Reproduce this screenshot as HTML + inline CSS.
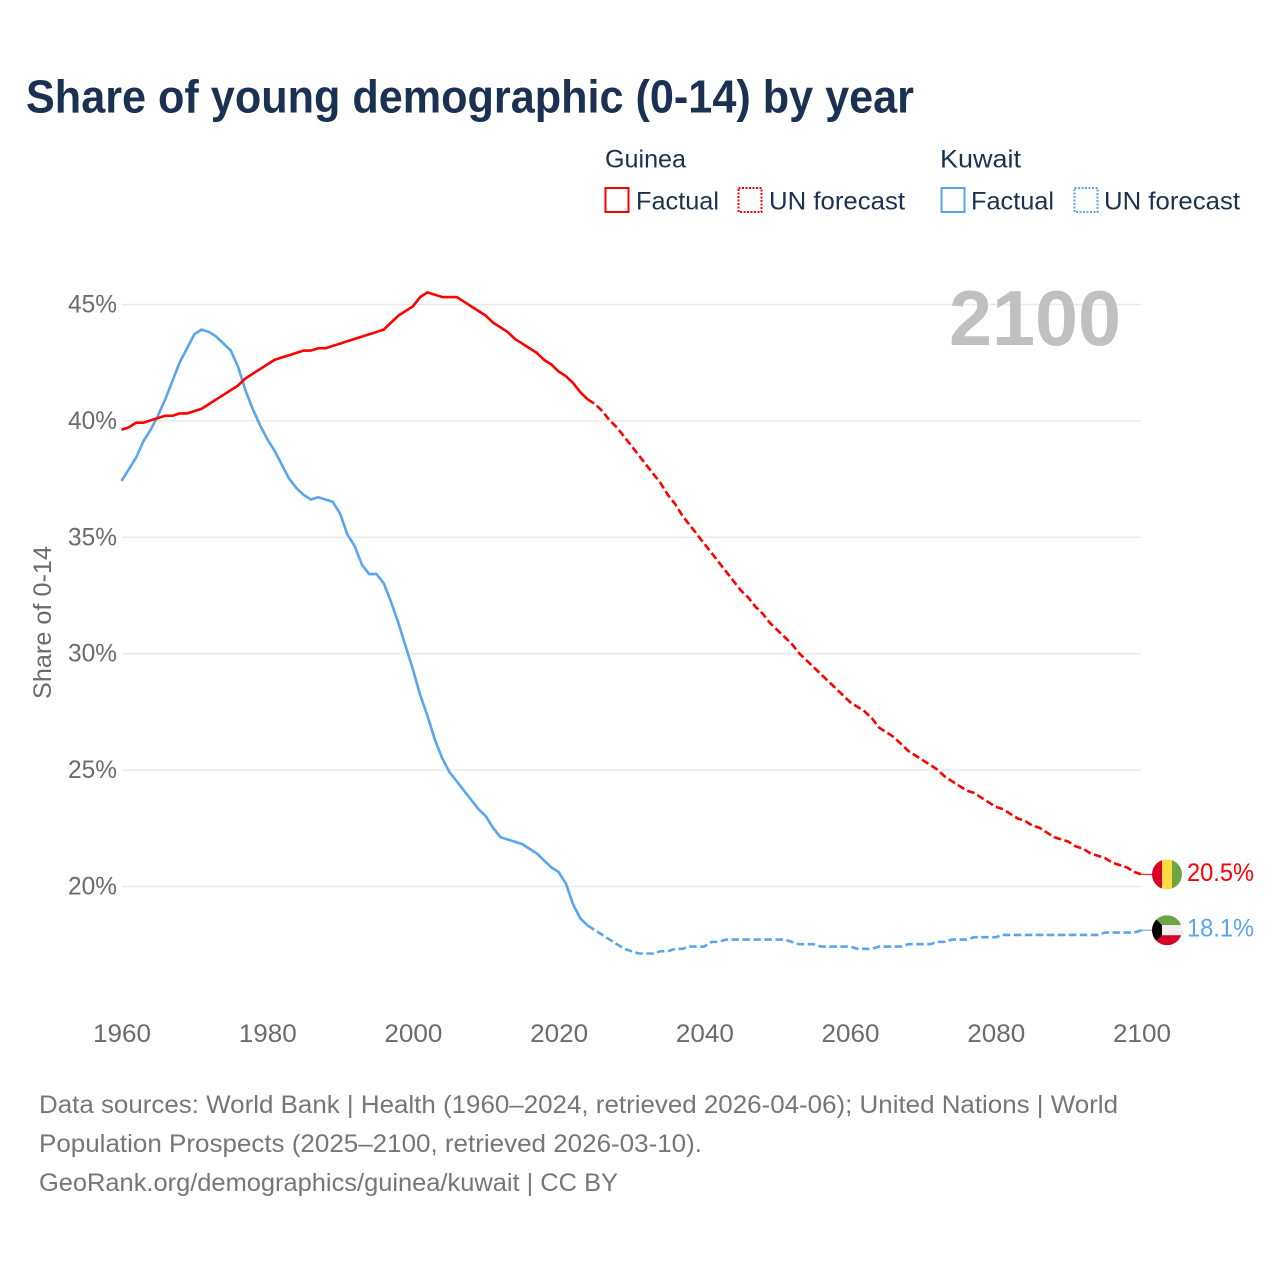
<!DOCTYPE html>
<html lang="en">
<head>
<meta charset="utf-8">
<title>Share of young demographic (0-14) by year</title>
<style>
  html, body { margin: 0; padding: 0; background: #ffffff; }
  svg { display: block; }
  text { font-family: "Liberation Sans", sans-serif; }
</style>
</head>
<body>
<svg id="chart" xmlns="http://www.w3.org/2000/svg" width="1280" height="1280" viewBox="0 0 1280 1280">
  <rect x="0" y="0" width="1280" height="1280" fill="#ffffff"/>

  <text x="26" y="112.5" font-size="46" font-weight="700" fill="#1a3152" textLength="888" lengthAdjust="spacingAndGlyphs">Share of young demographic (0-14) by year</text>

  <g font-size="25" fill="#1a3152">
    <text x="605" y="167.5" textLength="81" lengthAdjust="spacingAndGlyphs">Guinea</text>
    <text x="940" y="167.5" textLength="81" lengthAdjust="spacingAndGlyphs">Kuwait</text>

    <g>
      <rect x="605.5" y="188" width="23" height="24" fill="none" stroke="#ff0000" stroke-width="2"/>
      <text x="636" y="209.5" textLength="83" lengthAdjust="spacingAndGlyphs">Factual</text>
    </g>
    <g>
      <rect x="738.5" y="188" width="23" height="24" fill="none" stroke="#ff0000" stroke-width="2" stroke-dasharray="2 1.5"/>
      <text x="769" y="209.5" textLength="136" lengthAdjust="spacingAndGlyphs">UN forecast</text>
    </g>
    <g>
      <rect x="941.5" y="188" width="23" height="24" fill="none" stroke="#5aa5ec" stroke-width="2"/>
      <text x="971" y="209.5" textLength="83" lengthAdjust="spacingAndGlyphs">Factual</text>
    </g>
    <g>
      <rect x="1074.5" y="188" width="23" height="24" fill="none" stroke="#5aa5ec" stroke-width="2" stroke-dasharray="2 1.5"/>
      <text x="1104" y="209.5" textLength="136" lengthAdjust="spacingAndGlyphs">UN forecast</text>
    </g>
  </g>

  <g id="grid"></g>
  <g id="yticks"></g>
  <g id="xticks"></g>

  <text transform="translate(51 622.5) rotate(-90)" text-anchor="middle" font-size="25" fill="#6b6b6b" textLength="153" lengthAdjust="spacingAndGlyphs">Share of 0-14</text>

  <text x="949" y="345" font-size="78" font-weight="700" fill="#c0c0c0" textLength="172" lengthAdjust="spacingAndGlyphs">2100</text>

  <g id="series"></g>

  <defs>
    <clipPath id="flag-clip-guinea"><circle id="clip-circle-guinea" cx="1167" cy="874" r="15"/></clipPath>
    <clipPath id="flag-clip-kuwait"><circle id="clip-circle-kuwait" cx="1167" cy="930" r="15"/></clipPath>
  </defs>
  <g id="end-markers"></g>

  <g font-size="25" fill="#767676">
    <text x="39" y="1113" textLength="1079" lengthAdjust="spacingAndGlyphs">Data sources: World Bank | Health (1960–2024, retrieved 2026-04-06); United Nations | World</text>
    <text x="39" y="1152" textLength="663" lengthAdjust="spacingAndGlyphs">Population Prospects (2025–2100, retrieved 2026-03-10).</text>
    <text x="39" y="1191" textLength="579" lengthAdjust="spacingAndGlyphs">GeoRank.org/demographics/guinea/kuwait | CC BY</text>
  </g>
</svg>

<script>
const xTickYears = [1960, 1980, 2000, 2020, 2040, 2060, 2080, 2100];
const yTickValues = [20, 25, 30, 35, 40, 45];
const factualStartYear = 1960;
const forecastStartYear = 2024;

const guineaFactual = [
  39.6,39.7,39.9,39.9,40.0,40.1,40.2,40.2,40.3,40.3,
  40.4,40.5,40.7,40.9,41.1,41.3,41.5,41.8,42.0,42.2,
  42.4,42.6,42.7,42.8,42.9,43.0,43.0,43.1,43.1,43.2,
  43.3,43.4,43.5,43.6,43.7,43.8,43.9,44.2,44.5,44.7,
  44.9,45.3,45.5,45.4,45.3,45.3,45.3,45.1,44.9,44.7,
  44.5,44.2,44.0,43.8,43.5,43.3,43.1,42.9,42.6,42.4,
  42.1,41.9,41.6,41.2,40.9
];
const guineaForecast = [
  40.9,40.7,40.4,40.0,39.7,39.3,
  38.9,38.5,38.1,37.7,37.3,36.8,36.4,35.9,35.5,35.1,
  34.7,34.3,33.9,33.5,33.1,32.7,32.4,32.0,31.7,31.3,
  31.0,30.7,30.4,30.0,29.7,29.4,29.1,28.8,28.5,28.2,
  27.9,27.7,27.5,27.2,26.8,26.6,26.4,26.1,25.8,25.6,
  25.4,25.2,25.0,24.7,24.5,24.3,24.1,24.0,23.8,23.6,
  23.4,23.3,23.1,22.9,22.8,22.6,22.5,22.3,22.1,22.0,
  21.9,21.7,21.6,21.4,21.3,21.2,21.0,20.9,20.8,20.6,
  20.5
];
const kuwaitFactual = [
  37.4,37.9,38.4,39.1,39.6,40.2,40.9,41.7,42.5,43.1,
  43.7,43.9,43.8,43.6,43.3,43.0,42.3,41.3,40.5,39.8,
  39.2,38.7,38.1,37.5,37.1,36.8,36.6,36.7,36.6,36.5,
  36.0,35.1,34.6,33.8,33.4,33.4,33.0,32.2,31.3,30.3,
  29.3,28.2,27.3,26.3,25.5,24.9,24.5,24.1,23.7,23.3,
  23.0,22.5,22.1,22.0,21.9,21.8,21.6,21.4,21.1,20.8,
  20.6,20.1,19.2,18.6,18.3
];
const kuwaitForecast = [
  18.3,18.1,17.9,17.7,17.5,17.3,
  17.2,17.1,17.1,17.1,17.2,17.2,17.3,17.3,17.4,17.4,
  17.4,17.6,17.6,17.7,17.7,17.7,17.7,17.7,17.7,17.7,
  17.7,17.7,17.6,17.5,17.5,17.5,17.4,17.4,17.4,17.4,
  17.4,17.3,17.3,17.3,17.4,17.4,17.4,17.4,17.5,17.5,
  17.5,17.5,17.6,17.6,17.7,17.7,17.7,17.8,17.8,17.8,
  17.8,17.9,17.9,17.9,17.9,17.9,17.9,17.9,17.9,17.9,
  17.9,17.9,17.9,17.9,17.9,18.0,18.0,18.0,18.0,18.0,
  18.1
];

const NS = 'http://www.w3.org/2000/svg';
const RED = '#ff0000';
const BLUE = '#5aa5ec';

function xScale(year) { return 121.5 + (year - 1960) * (1020 / 140); }
function yScale(value) { return 886 - (value - 20) * (582 / 25); }

function make(tag, attrs, parent) {
  const el = document.createElementNS(NS, tag);
  for (const k in attrs) el.setAttribute(k, attrs[k]);
  parent.appendChild(el);
  return el;
}

const gridGroup = document.getElementById('grid');
const yTickGroup = document.getElementById('yticks');
const xTickGroup = document.getElementById('xticks');
const seriesGroup = document.getElementById('series');
const markerGroup = document.getElementById('end-markers');

yTickValues.forEach(function (v) {
  const line = make('line', { x1: 122, x2: 1141, y1: yScale(v) + 0.5, y2: yScale(v) + 0.5, stroke: '#e9e9e9', 'stroke-width': 1.5 }, gridGroup);
  
  
  const label = make('text', { x: 68, y: yScale(v) + 8.5, 'font-size': 25, fill: '#6b6b6b', textLength: 49, lengthAdjust: 'spacingAndGlyphs' }, yTickGroup);
  label.textContent = v + '%';
  
  
});

xTickYears.forEach(function (yr) {
  const label = make('text', { x: xScale(yr) - 28.5, y: 1042, 'font-size': 25, fill: '#6b6b6b', textLength: 58, lengthAdjust: 'spacingAndGlyphs' }, xTickGroup);
  label.textContent = String(yr);
  
  
});

function linePoints(values, startYear) {
  return values.map(function (v, i) {
    return xScale(startYear + i).toFixed(2) + ',' + yScale(v).toFixed(2);
  }).join(' ');
}

function drawLine(values, startYear, color, dash, name) {
  const attrs = { points: linePoints(values, startYear), fill: 'none', stroke: color, 'stroke-width': 2.6, 'stroke-linejoin': 'round' };
  if (dash) attrs['stroke-dasharray'] = dash;
  const poly = make('polyline', attrs, seriesGroup);
  
  
}

drawLine(kuwaitFactual, factualStartYear, BLUE, null, 'line-kuwait-factual');
drawLine(kuwaitForecast, forecastStartYear, BLUE, '7.5 3.5', 'line-kuwait-forecast');
drawLine(guineaFactual, factualStartYear, RED, null, 'line-guinea-factual');
drawLine(guineaForecast, forecastStartYear, RED, '7.5 3.5', 'line-guinea-forecast');

function drawEndLabel(value, color, name) {
  const y = yScale(value);
  const link = make('line', { x1: xScale(2100), x2: 1153, y1: y, y2: y, stroke: color, 'stroke-width': 1 }, markerGroup);
  
  
  const label = make('text', { x: 1187, y: y + 6.5, 'font-size': 25, fill: color, textLength: 67, lengthAdjust: 'spacingAndGlyphs' }, markerGroup);
  label.textContent = value.toFixed(1) + '%';
  
  
}

function flagRect(parent, x, y, w, h, fill) {
  return make('rect', { x: x, y: y, width: w, height: h, fill: fill }, parent);
}

const guineaLast = guineaForecast[guineaForecast.length - 1];
const kuwaitLast = kuwaitForecast[kuwaitForecast.length - 1];
drawEndLabel(guineaLast, RED, 'guinea-end');
drawEndLabel(kuwaitLast, BLUE, 'kuwait-end');

const guineaCy = yScale(guineaLast);
const kuwaitCy = yScale(kuwaitLast);
document.getElementById('clip-circle-guinea').setAttribute('cy', guineaCy);
document.getElementById('clip-circle-kuwait').setAttribute('cy', kuwaitCy);

const guineaFlag = make('g', { 'clip-path': 'url(#flag-clip-guinea)' }, markerGroup);


flagRect(guineaFlag, 1152, guineaCy - 15, 10, 30, '#d80027');
flagRect(guineaFlag, 1162, guineaCy - 15, 10, 30, '#ffda44');
flagRect(guineaFlag, 1172, guineaCy - 15, 10, 30, '#6da544');

const kuwaitFlag = make('g', { 'clip-path': 'url(#flag-clip-kuwait)' }, markerGroup);


flagRect(kuwaitFlag, 1152, kuwaitCy - 15, 30, 10, '#6da544');
flagRect(kuwaitFlag, 1152, kuwaitCy - 5, 30, 10, '#f0f0f0');
flagRect(kuwaitFlag, 1152, kuwaitCy + 5, 30, 10, '#d80027');
make('polygon', {
  points: [
    [1152, kuwaitCy - 15], [1162, kuwaitCy - 5], [1162, kuwaitCy + 5], [1152, kuwaitCy + 15]
  ].map(function (p) { return p.join(','); }).join(' '),
  fill: '#000000'
}, kuwaitFlag);
</script>
</body>
</html>
